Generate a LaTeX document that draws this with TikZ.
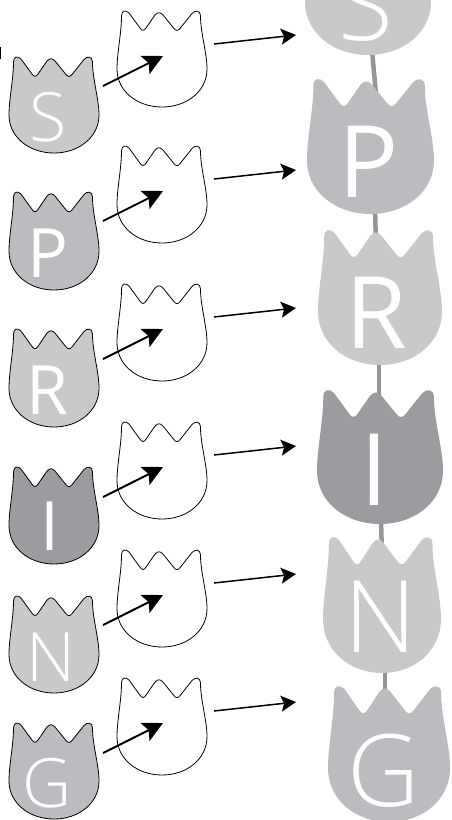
\documentclass[tikz,border=0pt]{standalone}
\usepackage{fontspec}
\setmainfont{Open Sans Light}
\newfontfamily\heavyletter{Open Sans}
\usetikzlibrary{arrows.meta}
\definecolor{tlight}{HTML}{C8C9CB}
\definecolor{tmid}{HTML}{BBBCBF}
\definecolor{tdark}{HTML}{9B9C9F}
\definecolor{stemgray}{HTML}{939598}
\tikzset{
  arrowline/.style={line width=2pt,-{Stealth[length=20pt,width=20pt,inset=4pt]}},
  shortarrow/.style={line width=1.5pt,-{Stealth[length=15pt,width=16pt,inset=3pt]}},
  stemline/.style={line width=4.5pt,stemgray},
  smallletter/.style={text=white,anchor=base,font=\fontsize{68}{68}\selectfont,inner sep=0pt},
  bigletter/.style={text=white,anchor=base,font=\fontsize{100}{100}\selectfont,inner sep=0pt},
  tulipline/.style={draw=black,line width=0.8pt}
}
% center x, top y, width, height, style
\newcommand{\tulipshape}[5]{%
  \begin{scope}[shift={(#1,#2)},xscale=#3/90,yscale=#4/96]
  \path[#5] (-40.5,5) .. controls (-40.5,-1) and (-36,-1) .. (-33,2) -- (-22,17)
    .. controls (-20,20) and (-18,20) .. (-16,17) -- (-7,4)
    .. controls (-4,1) and (-2,1) .. (1,4) -- (12,17.5)
    .. controls (14,20) and (16,20) .. (18,17.5) -- (30,2.5)
    .. controls (33,-1) and (38.5,-1) .. (38.5,5)
    .. controls (38.5,22) and (45,42) .. (45,58)
    .. controls (45,80) and (25,96) .. (0,96)
    .. controls (-25,96) and (-45,80) .. (-45,58)
    .. controls (-45,42) and (-40.5,22) .. (-40.5,5) -- cycle;
  \end{scope}}
\begin{document}
\begin{tikzpicture}[x=1pt,y=-1pt]
\useasboundingbox (0,0) rectangle (451,820);
\clip (0,0) rectangle (451,820);
% stems
\coordinate (st1a) at (372,50); \coordinate (st1b) at (376,95);
\coordinate (st2a) at (375,208); \coordinate (st2b) at (376,245);
\coordinate (st3a) at (379,360); \coordinate (st3b) at (379,405);
\coordinate (st4a) at (381,520); \coordinate (st4b) at (382,555);
\coordinate (st5a) at (385,668); \coordinate (st5b) at (385,700);
\draw[stemline] (st1a)--(st1b);
\draw[stemline] (st2a)--(st2b);
\draw[stemline] (st3a)--(st3b);
\draw[stemline] (st4a)--(st4b);
\draw[stemline] (st5a)--(st5b);
% big tulips
\tulipshape{368}{-80}{126}{135}{fill=tlight}
\tulipshape{370.5}{79}{127}{135}{fill=tmid}
\tulipshape{380}{230}{124}{135}{fill=tlight}
\tulipshape{380}{390}{126}{134}{fill=tdark}
\tulipshape{382}{537}{118}{136}{fill=tlight}
\tulipshape{389}{686}{122}{136}{fill=tmid}
\node[bigletter] (bS) at (366,40) {S};
\node[bigletter,font=\heavyletter\fontsize{100}{100}\selectfont] (bP) at (369,197) {P};
\node[bigletter,font=\heavyletter\fontsize{100}{100}\selectfont] (bR) at (376,348) {R};
\node[bigletter,font=\heavyletter\fontsize{100}{100}\selectfont] (bI) at (374,505) {I};
\node[bigletter] (bN) at (381,652) {N};
\node[bigletter] (bG) at (384,806) {G};
% left tulips
\tulipshape{54}{57}{90}{96}{fill=tlight,tulipline}
\tulipshape{54}{192}{90}{98}{fill=tmid,tulipline}
\tulipshape{54}{329}{90}{98}{fill=tlight,tulipline}
\tulipshape{54}{467}{90}{97}{fill=tdark,tulipline}
\tulipshape{54}{596}{90}{97}{fill=tlight,tulipline}
\tulipshape{54}{723}{90}{96}{fill=tmid,tulipline}
\node[smallletter] (sS) at (48,141) {S};
\node[smallletter,font=\heavyletter\fontsize{68}{68}\selectfont] (sP) at (48,277) {P};
\node[smallletter,font=\heavyletter\fontsize{68}{68}\selectfont] (sR) at (48,414) {R};
\node[smallletter,font=\heavyletter\fontsize{68}{68}\selectfont] (sI) at (49.5,550) {I};
\node[smallletter] (sN) at (51,681) {N};
\node[smallletter] (sG) at (47,807) {G};
% outline tulips
\tulipshape{162}{11}{90}{96}{tulipline}
\tulipshape{162}{146}{90}{97}{tulipline}
\tulipshape{162}{284}{90}{97}{tulipline}
\tulipshape{162}{422}{90}{97}{tulipline}
\tulipshape{162}{550}{90}{97}{tulipline}
\tulipshape{162}{678}{90}{97}{tulipline}
% arrows
\foreach \i/\ya/\yb/\yc/\yd in {1/86/56/44/35,2/221/191/179/170,3/359/329/317/308,4/497/467/455/446,5/625/595/583/574,6/753/723/711/702}{
  \coordinate (a\i) at (103,\ya); \coordinate (b\i) at (163,\yb);
  \coordinate (c\i) at (214,\yc); \coordinate (d\i) at (296,\yd);
  \draw[arrowline] (a\i)--(b\i);
  \draw[shortarrow] (c\i)--(d\i);
}
\coordinate (m1) at (0,47); \coordinate (m2) at (0,59);
\draw[line width=2pt] (m1)--(m2);
\end{tikzpicture}
\end{document}
